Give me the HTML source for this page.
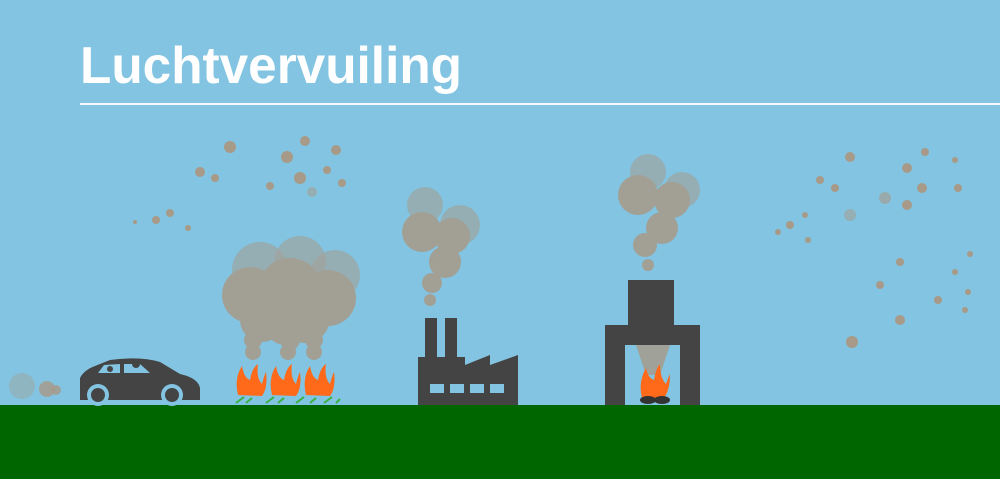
<!DOCTYPE html>
<html><head><meta charset="utf-8"><style>
html,body{margin:0;padding:0;width:1000px;height:479px;overflow:hidden;background:#82c4e1}
</style></head><body>
<svg width="1000" height="479" viewBox="0 0 1000 479" xmlns="http://www.w3.org/2000/svg">
<rect width="1000" height="479" fill="#82c4e1"/>
<text x="80" y="83" font-family="Liberation Sans, sans-serif" font-weight="bold" font-size="52" fill="#fff" textLength="382" lengthAdjust="spacingAndGlyphs">Luchtvervuiling</text>
<rect x="80" y="103" width="920" height="2" fill="#f4f8fa"/>
<rect x="0" y="405" width="1000" height="74" fill="#006600"/>
<g fill="#a89a88">
 <g opacity="0.85">
 <circle cx="260" cy="270" r="28" opacity="0.6"/><circle cx="300" cy="262" r="26" opacity="0.6"/><circle cx="335" cy="275" r="25" opacity="0.6"/>
 <circle cx="250" cy="295" r="28"/><circle cx="290" cy="290" r="32"/><circle cx="328" cy="298" r="28"/>
 <circle cx="262" cy="320" r="22"/><circle cx="305" cy="318" r="25"/><circle cx="285" cy="325" r="20"/>
 <circle cx="253" cy="340" r="9"/><circle cx="253" cy="352" r="8"/><circle cx="290" cy="340" r="10"/><circle cx="288" cy="352" r="8"/><circle cx="314" cy="340" r="9"/><circle cx="314" cy="352" r="8"/>
 </g>
 <g opacity="0.85">
 <circle cx="425" cy="205" r="18" opacity="0.6"/><circle cx="460" cy="225" r="20" opacity="0.6"/>
 <circle cx="422" cy="232" r="20"/><circle cx="452" cy="236" r="18"/><circle cx="445" cy="262" r="16"/><circle cx="432" cy="283" r="10"/><circle cx="430" cy="300" r="6"/>
 </g>
 <g opacity="0.85">
 <circle cx="648" cy="172" r="18" opacity="0.6"/><circle cx="682" cy="190" r="18" opacity="0.6"/>
 <circle cx="638" cy="195" r="20"/><circle cx="672" cy="200" r="18"/><circle cx="662" cy="228" r="16"/><circle cx="645" cy="245" r="12"/><circle cx="648" cy="265" r="6"/>
 </g>
 <polygon points="636,345 670,345 660,375 646,375" opacity="0.8"/>
 <circle cx="22" cy="386" r="13" opacity="0.35"/><circle cx="47" cy="389" r="8" opacity="0.8"/><circle cx="56" cy="390" r="5" opacity="0.8"/>
 <circle cx="230" cy="147" r="6"/><circle cx="305" cy="141" r="5"/><circle cx="287" cy="157" r="6"/><circle cx="336" cy="150" r="5"/><circle cx="200" cy="172" r="5"/><circle cx="215" cy="178" r="4"/><circle cx="300" cy="178" r="6"/><circle cx="327" cy="170" r="4"/><circle cx="270" cy="186" r="4"/><circle cx="342" cy="183" r="4"/><circle cx="170" cy="213" r="4"/><circle cx="156" cy="220" r="4"/><circle cx="188" cy="228" r="3"/><circle cx="135" cy="222" r="2"/><circle cx="312" cy="192" r="5" opacity="0.5"/>
 <circle cx="850" cy="157" r="5"/><circle cx="925" cy="152" r="4"/><circle cx="955" cy="160" r="3"/><circle cx="820" cy="180" r="4"/><circle cx="835" cy="188" r="4"/><circle cx="907" cy="168" r="5"/><circle cx="922" cy="188" r="5"/><circle cx="958" cy="188" r="4"/><circle cx="885" cy="198" r="6" opacity="0.6"/><circle cx="907" cy="205" r="5"/><circle cx="850" cy="215" r="6" opacity="0.5"/><circle cx="805" cy="215" r="3"/><circle cx="790" cy="225" r="4"/><circle cx="778" cy="232" r="3"/><circle cx="808" cy="240" r="3"/><circle cx="970" cy="254" r="3"/><circle cx="900" cy="262" r="4"/><circle cx="955" cy="272" r="3"/><circle cx="880" cy="285" r="4"/><circle cx="938" cy="300" r="4"/><circle cx="965" cy="310" r="3"/><circle cx="900" cy="320" r="5"/><circle cx="852" cy="342" r="6"/><circle cx="968" cy="292" r="3"/>
</g>
<g fill="#444">
 <path d="M80,394 L80,378 Q84,370 95,366 L110,360 Q140,356 160,362 L180,374 Q198,378 200,388 L200,400 L80,400 Z"/>
</g>
<g fill="#82c4e1">
 <polygon points="98,373 104,365 120,364 120,373"/><polygon points="124,364 140,364 150,373 124,373"/>
 <circle cx="98" cy="395" r="11"/><circle cx="172" cy="395" r="11"/>
</g>
<g fill="#444"><circle cx="98" cy="395" r="7"/><circle cx="172" cy="395" r="7"/><circle cx="110" cy="369" r="3"/><circle cx="136" cy="364" r="4"/></g>
<g>
 <g fill="#ff6a1a">
  <path d="M238,395 Q234,378 242,366 Q244,378 250,380 Q252,368 258,364 Q256,378 262,384 Q264,376 266,372 Q268,388 262,396 Z"/>
  <path d="M272,395 Q268,378 276,366 Q278,378 284,380 Q286,368 292,364 Q290,378 296,384 Q298,376 300,372 Q302,388 296,396 Z"/>
  <path d="M306,395 Q302,378 310,366 Q312,378 318,380 Q320,368 326,364 Q324,378 330,384 Q332,376 334,372 Q336,388 330,396 Z"/>
  <path d="M642,398 Q638,382 646,368 Q648,378 654,380 Q656,368 660,364 Q660,378 666,384 Q668,378 670,374 Q670,390 664,398 Z"/>
 </g>
 <g stroke="#3cb043" stroke-width="2"><path d="M236,403 L244,397 M246,403 L252,398 M266,403 L274,397 M278,403 L284,398 M296,403 L304,397 M310,403 L316,398 M324,403 L332,397 M336,403 L340,399"/></g>
 <g fill="#333"><ellipse cx="648" cy="400" rx="8" ry="4"/><ellipse cx="662" cy="400" rx="8" ry="4"/></g>
</g>
<g fill="#444">
 <rect x="425" y="318" width="12" height="45"/><rect x="445" y="318" width="12" height="45"/>
 <polygon points="418,357 465,357 465,365 490,355 490,365 518,355 518,405 418,405"/>
</g>
<g fill="#82c4e1"><rect x="430" y="384" width="14" height="9"/><rect x="450" y="384" width="14" height="9"/><rect x="470" y="384" width="14" height="9"/><rect x="490" y="384" width="14" height="9"/></g>
<g fill="#444">
 <rect x="628" y="280" width="46" height="50"/>
 <path d="M605,325 L700,325 L700,405 L680,405 L680,345 L625,345 L625,405 L605,405 Z"/>
</g>
</svg>
</body></html>
